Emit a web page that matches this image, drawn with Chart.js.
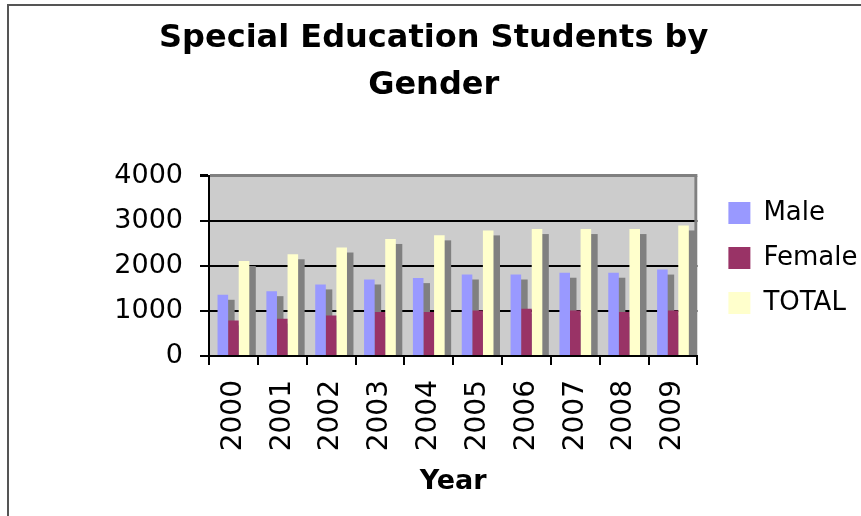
<!DOCTYPE html>
<html>
<head>
<meta charset="utf-8">
<title>Special Education Students by Gender</title>
<script src="https://cdn.jsdelivr.net/npm/chart.js@4/dist/chart.umd.min.js"></script>
<style>
  html, body { margin: 0; padding: 0; background: #fff; }
  #chart-holder { width: 861px; height: 516px; }
</style>
</head>
<body>
<div id="chart-holder"><canvas id="chart" width="861" height="516"></canvas></div>
<script>
var years = ['2000', '2001', '2002', '2003', '2004', '2005', '2006', '2007', '2008', '2009'];
var male = [1360, 1440, 1590, 1700, 1730, 1810, 1810, 1850, 1850, 1920];
var female = [790, 830, 900, 980, 980, 1010, 1050, 1010, 980, 1010];
var total = [2110, 2260, 2410, 2600, 2680, 2790, 2820, 2820, 2820, 2900];
var yTicks = [0, 1000, 2000, 3000, 4000];

var colours = {
  male: '#9999ff',
  female: '#993366',
  total: '#ffffcc',
  shadow: '#808080',
  plot: '#cccccc'
};

var font = 'DejaVu Sans';

var plotBackground = {
  id: 'plotBackground',
  beforeDraw: function(chart) {
    var ctx = chart.ctx;
    var a = chart.chartArea;
    ctx.save();
    ctx.fillStyle = colours.plot;
    ctx.fillRect(a.left, a.top, a.right - a.left, a.bottom - a.top);
    // outer frame of the chart object
    ctx.strokeStyle = '#555555';
    ctx.lineWidth = 2;
    ctx.strokeRect(8, 5, 900, 520);
    ctx.restore();
  },
  // grey right wall edge + flat drop shadow behind each bar (drawn before the bars)
  beforeDatasetsDraw: function(chart) {
    var ctx = chart.ctx;
    var a = chart.chartArea;
    ctx.save();
    ctx.beginPath();
    ctx.rect(a.left, a.top, a.right - a.left, a.bottom - a.top);
    ctx.clip();

    ctx.strokeStyle = colours.shadow;
    ctx.lineWidth = 3;
    ctx.beginPath();
    ctx.moveTo(a.right - 1.5, a.top);
    ctx.lineTo(a.right - 1.5, a.bottom);
    ctx.stroke();

    ctx.fillStyle = colours.shadow;
    chart.data.datasets.forEach(function(ds, i) {
      var meta = chart.getDatasetMeta(i);
      meta.data.forEach(function(bar) {
        var p = bar.getProps(['x', 'y', 'base', 'width'], true);
        var top = Math.min(p.y, p.base);
        var h = Math.abs(p.base - p.y);
        ctx.fillRect(p.x - p.width / 2 + 6.5, top + 5, p.width, h);
      });
    });
    ctx.restore();
  }
};

var data = {
  labels: years,
  datasets: [
    { label: 'Male', data: male, backgroundColor: colours.male, borderWidth: 0, clip: 0 },
    { label: 'Female', data: female, backgroundColor: colours.female, borderWidth: 0, clip: 0 },
    { label: 'TOTAL', data: total, backgroundColor: colours.total, borderWidth: 0, clip: 0 }
  ]
};

var options = {
  responsive: false,
  animation: false,
  layout: { padding: { left: 0, right: -6.4, top: 0, bottom: 0 } },
  datasets: {
    bar: { categoryPercentage: 0.65, barPercentage: 1.0, inflateAmount: 0 }
  },
  plugins: {
    title: {
      display: true,
      text: ['Special Education Students by', 'Gender'],
      color: '#000',
      font: { family: font, size: 32, weight: 'bold', lineHeight: 1.46 },
      padding: { top: 15.5, bottom: 67 }
    },
    legend: {
      position: 'right',
      maxWidth: 180,
      labels: {
        color: '#000',
        font: { family: font, size: 26 },
        boxWidth: 22,
        boxHeight: 22,
        padding: 19
      }
    },
    tooltip: { enabled: false }
  },
  scales: {
    x: {
      grid: {
        display: true,
        drawOnChartArea: false,
        drawTicks: true,
        tickLength: 9,
        color: '#000',
        lineWidth: 2
      },
      border: { display: true, color: '#000', width: 2, z: 1 },
      ticks: {
        color: '#000',
        font: { family: font, size: 28 },
        minRotation: 90,
        maxRotation: 90,
        padding: 15
      },
      title: {
        display: true,
        text: 'Year',
        color: '#000',
        font: { family: font, size: 27, weight: 'bold', lineHeight: 1.2 },
        padding: { top: 0, bottom: 18 }
      },
      afterFit: function(scale) { scale.height = 160; }
    },
    y: {
      min: yTicks[0],
      max: yTicks[yTicks.length - 1],
      afterBuildTicks: function(scale) {
        scale.ticks = yTicks.map(function(v) { return { value: v }; });
      },
      grid: {
        color: function(c) { return c.tick && c.tick.value === 4000 ? colours.shadow : '#000'; },
        lineWidth: function(c) { return c.tick && c.tick.value === 4000 ? 3 : 2; },
        tickColor: '#000',
        tickLength: 9
      },
      border: { display: true, color: '#000', width: 2, z: 1 },
      ticks: {
        color: '#000',
        font: { family: font, size: 27 },
        padding: 17,
        callback: function(v) { return String(v); }
      },
      afterFit: function(scale) { scale.width = 209; }
    },
    pad: {
      type: 'linear',
      position: 'right',
      display: true,
      grid: { display: false },
      border: { display: false },
      ticks: { display: false },
      afterFit: function(scale) { scale.width = 12; }
    }
  }
};

var ctx = document.getElementById('chart').getContext('2d');
var chart = new Chart(ctx, {
  type: 'bar',
  data: data,
  options: options,
  plugins: [plotBackground]
});
</script>
</body>
</html>
